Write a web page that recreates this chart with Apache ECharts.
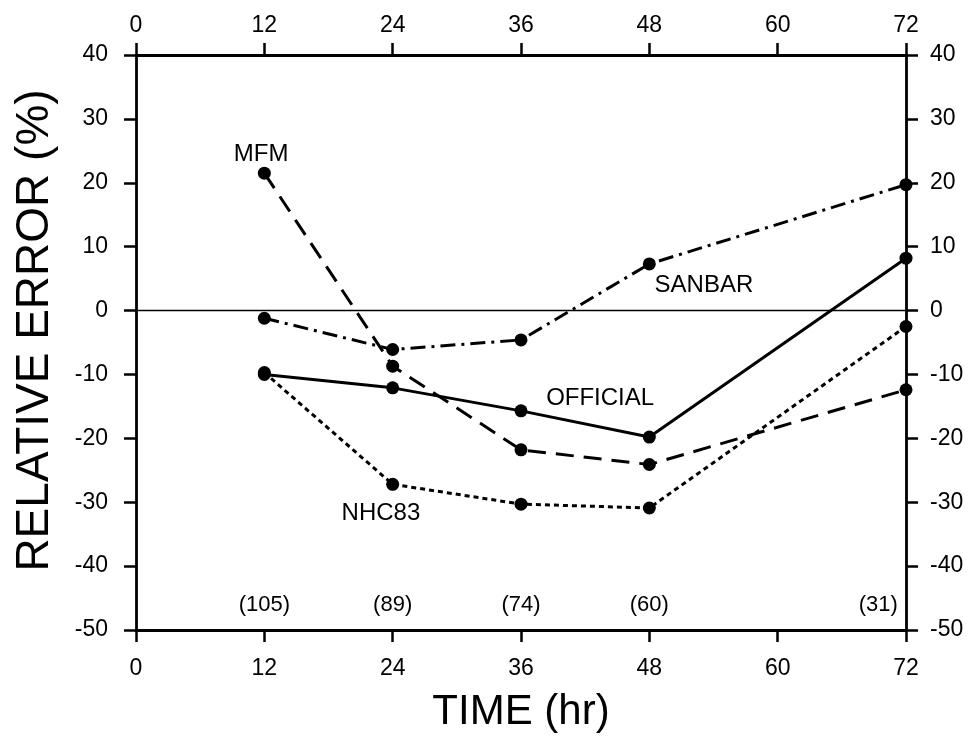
<!DOCTYPE html>
<html>
<head>
<meta charset="utf-8">
<script src="https://cdn.jsdelivr.net/npm/echarts@6/dist/echarts.min.js"></script>
<style>
  html, body { margin: 0; padding: 0; background: #fff; }
  #main { width: 975px; height: 740px; }
</style>
</head>
<body>
<div id="main"></div>
<script>
// forecast hours
var hours = [12, 24, 36, 48, 72];
// relative error (%)
var mfm = [21.5, -8.7, -21.8, -24.1, -12.4];
var sanbar = [-1.2, -6.1, -4.6, 7.3, 19.7];
var official = [-10.0, -12.1, -15.7, -19.8, 8.2];
var nhc83 = [-9.7, -27.2, -30.3, -30.9, -2.5];
// number of cases
var caseCounts = ['(105)', '(89)', '(74)', '(60)', '(31)'];
var caseX = [12, 24, 36, 48, 69.4];
var caseY = -46;
// series names and where they are written
var lineNames = ['MFM', 'SANBAR', 'OFFICIAL', 'NHC83'];
var nameX = [11.7, 53.1, 43.4, 22.9];
var nameY = [24.4, 4.0, -13.7, -31.7];

var chartDom = document.getElementById('main');
var myChart = echarts.init(chartDom);
var font = 'Liberation Sans, Arial, sans-serif';

function pairs(xs, ys) {
  var out = [];
  for (var i = 0; i < xs.length; i++) out.push([xs[i], ys[i]]);
  return out;
}

function xAx(pos, margin) {
  return {
    type: 'value', position: pos, min: 0, max: 72, interval: 12,
    axisLine: { show: true, onZero: false, lineStyle: { color: '#000', width: 2.8 } },
    axisTick: { show: true, length: 12, lineStyle: { color: '#000', width: 2.5 } },
    axisLabel: { color: '#000', fontSize: 23, fontFamily: font, margin: margin },
    splitLine: { show: false }
  };
}
function yAx(pos, margin) {
  return {
    type: 'value', position: pos, min: -50, max: 40, interval: 10,
    axisLine: { show: true, onZero: false, lineStyle: { color: '#000', width: 2.8 } },
    axisTick: { show: true, length: 12, lineStyle: { color: '#000', width: 2.5 } },
    axisLabel: { color: '#000', fontSize: 23, fontFamily: font, margin: margin },
    splitLine: { show: false }
  };
}

function lineSeries(name, data, dash) {
  return {
    name: name, type: 'line', data: pairs(hours, data),
    symbol: 'circle', symbolSize: 13,
    itemStyle: { color: '#000' },
    lineStyle: { color: '#000', width: 3, type: dash },
    animation: false
  };
}

function textSeries(data, size) {
  return {
    type: 'scatter', symbolSize: 0, animation: false, silent: true,
    itemStyle: { opacity: 1, color: '#000' },
    data: data,
    label: {
      show: true, position: 'inside', formatter: '{b}', opacity: 1,
      color: '#000', fontSize: size, fontFamily: font
    }
  };
}

var xBottom = xAx('bottom', 27);
var xTop = xAx('top', 18);
var yLeft = yAx('left', 28);
var yRight = yAx('right', 24);
yLeft.name = 'RELATIVE ERROR (%)';
yLeft.nameLocation = 'middle';
yLeft.nameGap = 78;
yLeft.nameTextStyle = { color: '#000', fontSize: 46, fontFamily: font, padding: [0, 0, 0, 24] };
xBottom.name = 'TIME (hr)';
xBottom.nameLocation = 'middle';
xBottom.nameGap = 61;
xBottom.nameTextStyle = { color: '#000', fontSize: 42, fontFamily: font };

var mfmSeries = lineSeries('MFM', mfm, [18, 10]);
mfmSeries.markLine = {
  silent: true, symbol: 'none', animation: false,
  label: { show: false },
  lineStyle: { color: '#000', width: 1.4, type: 'solid' },
  data: [{ yAxis: 0 }]
};

var nameData = pairs(nameX, nameY).map(function (p, i) {
  return { value: p, name: lineNames[i] };
});
var caseData = pairs(caseX, caseX.map(function () { return caseY; })).map(function (p, i) {
  return { value: p, name: caseCounts[i] };
});

var option = {
  backgroundColor: '#fff',
  animation: false,
  grid: { left: 136, right: 69, top: 55, bottom: 110, containLabel: false, outerBoundsMode: 'none' },
  xAxis: [xBottom, xTop],
  yAxis: [yLeft, yRight],
  series: [
    mfmSeries,
    lineSeries('SANBAR', sanbar, [15, 6, 3, 6]),
    lineSeries('OFFICIAL', official, 'solid'),
    lineSeries('NHC83', nhc83, [5, 4]),
    textSeries(nameData, 24),
    textSeries(caseData, 22)
  ]
};

myChart.setOption(option);
</script>
</body>
</html>
